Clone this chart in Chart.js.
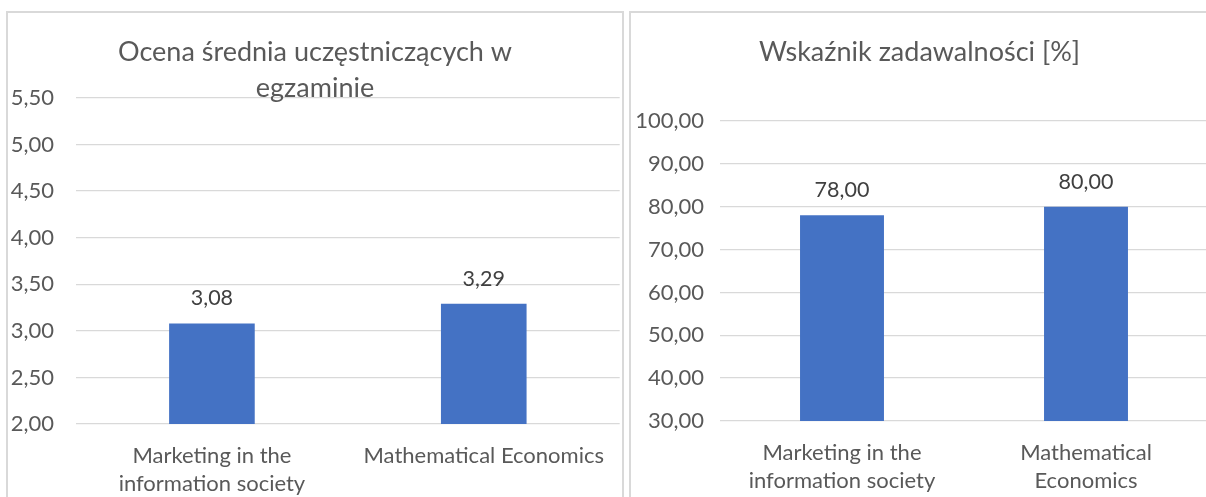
<!DOCTYPE html>
<html>
<head>
<meta charset="utf-8">
<script src="https://cdn.jsdelivr.net/npm/chart.js@4.4.1/dist/chart.umd.min.js"></script>
<style>
  html, body { margin: 0; padding: 0; background: #fff; width: 1206px; height: 497px; overflow: hidden; }
  .box { position: absolute; border: 2px solid #d9d9d9; box-sizing: content-box; }
  #box1 { left: 6px; top: 11px; width: 614px; height: 500px; }
  #box2 { left: 629px; top: 11px; width: 581px; height: 500px; }
  .box canvas { display: block; }
</style>
</head>
<body>
<div class="box" id="box1"><canvas id="chart1"></canvas></div>
<div class="box" id="box2"><canvas id="chart2"></canvas></div>
<script>
// data
const gradeLabels = [['Marketing in the', 'information society'], 'Mathematical Economics']
const gradeValues = [3.08, 3.29]
const gradeTicks = { min: 2, max: 5.5, step: 0.5 }

const satLabels = [['Marketing in the', 'information society'], ['Mathematical', 'Economics']]
const satValues = [78, 80]
const satTicks = { min: 30, max: 100, step: 10 }

const FONT = 'Lato'
const fmt = v => Number(v).toFixed(2).replace('.', ',')

// value labels above bars
const valueLabels = {
  id: 'valueLabels',
  afterDatasetsDraw(chart) {
    const ctx = chart.ctx
    ctx.save()
    ctx.font = '21.5px ' + FONT
    ctx.fillStyle = '#404040'
    ctx.textAlign = 'center'
    ctx.textBaseline = 'middle'
    chart.getDatasetMeta(0).data.forEach((bar, i) => {
      ctx.fillText(fmt(chart.data.datasets[0].data[i]), bar.x, bar.y - 25)
    })
    ctx.restore()
  }
}

function makeChart(id, w, h, labels, values, ticks, title, opts) {
  const canvas = document.getElementById(id)
  canvas.style.width = w + 'px'
  canvas.style.height = h + 'px'
  return new Chart(canvas.getContext('2d'), {
    type: 'bar',
    data: {
      labels: labels,
      datasets: [{
        data: values,
        backgroundColor: '#4472c4',
        barPercentage: opts.barPct,
        categoryPercentage: 1
      }]
    },
    options: {
      responsive: false,
      animation: false,
      layout: { padding: { left: 0, right: opts.padRight, top: 0, bottom: 0 } },
      plugins: {
        legend: { display: false },
        tooltip: { enabled: false },
        title: {
          display: true,
          text: title,
          color: '#595959',
          font: { family: FONT, size: 27, weight: 'normal', lineHeight: '36px' },
          padding: { top: 21, bottom: opts.titleBottom }
        }
      },
      scales: {
        x: {
          grid: { display: false, drawTicks: false },
          border: { display: false },
          ticks: {
            color: '#595959',
            font: { family: FONT, size: 22, lineHeight: '28px' },
            padding: 18,
            maxRotation: 0,
            autoSkip: false
          },
          afterFit(scale) { scale.height = opts.xHeight }
        },
        y: {
          min: ticks.min,
          max: ticks.max,
          grid: { color: '#d9d9d9', lineWidth: 1.3, drawTicks: false },
          border: { display: false },
          ticks: {
            stepSize: ticks.step,
            color: '#595959',
            font: { family: FONT, size: 22 },
            padding: opts.yPad,
            callback: v => fmt(v)
          },
          afterFit(scale) { scale.width = opts.yWidth }
        }
      }
    },
    plugins: [valueLabels]
  })
}

makeChart('chart1', 614, 490, gradeLabels, gradeValues, gradeTicks,
  ['Ocena średnia uczęstniczących w', 'egzaminie'],
  { barPct: 0.315, padRight: 0, titleBottom: -8, xHeight: 79, yWidth: 68, yPad: 22 })

makeChart('chart2', 581, 490, satLabels, satValues, satTicks,
  'Wskaźnik zadawalności [%]',
  { barPct: 0.344, padRight: 4, titleBottom: 51, xHeight: 82, yWidth: 89, yPad: 16 })
</script>
</body>
</html>
